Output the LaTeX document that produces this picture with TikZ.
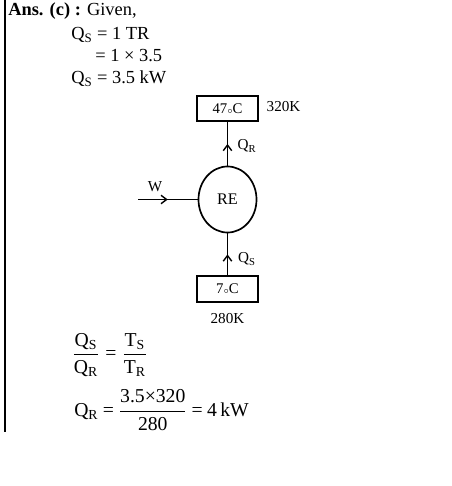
\documentclass[tikz,border=0pt]{standalone}
\usepackage{amsmath}
\usepackage{fontspec}
\setmainfont{Liberation Serif}
\usetikzlibrary{arrows.meta,decorations.markings,shapes.geometric,positioning}

\begin{document}
\begin{tikzpicture}[x=0.025cm, y=-0.025cm,
  txt/.style={anchor=base west, inner sep=0pt, font=\fontsize{13.1}{16}\selectfont},
  eqn/.style={anchor=west, inner sep=0pt, font=\fontsize{14}{16}\selectfont},
  res/.style={draw, line width=1.2pt, minimum width=1.54cm, minimum height=0.64cm, inner sep=0pt, font=\fontsize{10.5}{12}\selectfont},
  eng/.style={draw, ellipse, line width=1.2pt, minimum width=1.45cm, minimum height=1.65cm, inner sep=0pt, font=\fontsize{11.5}{13}\selectfont},
  lbl/.style={inner sep=1pt, font=\fontsize{10.8}{12}\selectfont},
  arr/.style={line width=1pt, decoration={markings, mark=at position 0.5 with {\arrow{Straight Barb[length=4pt,width=6pt,line width=1pt]}}}, postaction={decorate}},
]
\useasboundingbox (0,0) rectangle (452,486);

% ─── Margin rule ───
\coordinate (rtop) at (5,0);
\coordinate (rbot) at (5,432);
\draw[line width=1pt] (rtop) -- (rbot);

% ─── Given data ───
\node[txt] (ans)   at (8,16)  {\textbf{Ans. (c) :} Given,};
\node[txt] (qs)    at (71,40) {Q\textsubscript{S} = 1 TR};
\node[txt] (conv)  at (95,62) {= 1 × 3.5};
\node[txt] (qsval) at (71,84) {Q\textsubscript{S} = 3.5 kW};

% ─── Reservoirs and engine ───
\node[res] (hot)  at (227.5,108.5) {47{\fontsize{6}{6}\selectfont$\circ$}C};
\node[lbl, anchor=west] (hotT) at (265,107) {320K};
\node[eng] (re)   at (227.5,199.5) {RE};
\node[res] (cold) at (227.5,289) {7{\fontsize{6}{6}\selectfont$\circ$}C};
\node[lbl] (coldT) at (227.5,319) {280K};

% ─── Heat and work flows ───
\coordinate (win) at (138,199.5);
\draw[arr] (win) -- (re);
\draw[arr] (re) -- (hot);
\draw[arr] (cold) -- (re);
\node[lbl] (wlbl)  at (155,187) {W};
\node[lbl] (qrlbl) at (247,146) {Q\textsubscript{R}};
\node[lbl] (qslbl) at (247,259) {Q\textsubscript{S}};

% ─── Result ───
\node[eqn] (ratio) at (72,355) {$\dfrac{\text{Q\textsubscript{S}}}{\text{Q\textsubscript{R}}}\mkern5mu\text{=}\mkern5mu\dfrac{\text{T\textsubscript{S}}}{\text{T\textsubscript{R}}}$};
\node[eqn] (qrval) at (74,410) {$\text{Q\textsubscript{R}}\mkern4mu\text{=}\mkern4mu\dfrac{\text{3.5×320}}{\text{280}}\mkern4mu\text{=}\mkern4mu\text{4\,kW}$};

\end{tikzpicture}
\end{document}
